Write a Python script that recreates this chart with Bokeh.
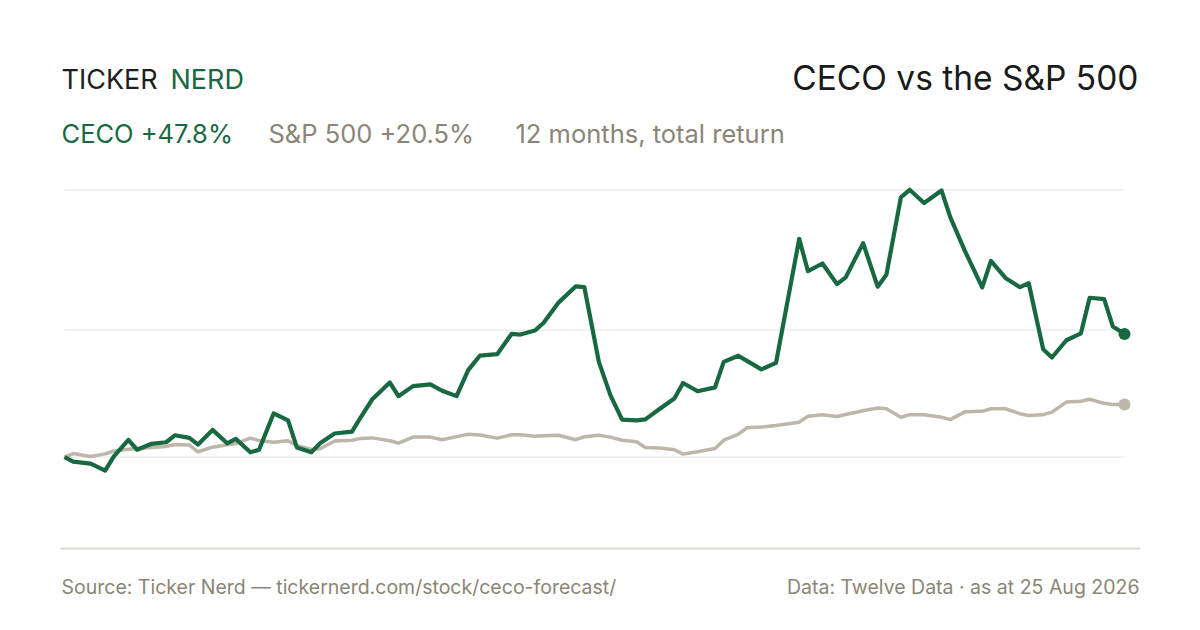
from bokeh.plotting import figure
from bokeh.models import Label, BoxAnnotation, Range1d
from bokeh.embed import file_html
from bokeh.resources import INLINE

# days since 25 Aug 2025 and total return in %
DAYS = [0, 3, 9, 14, 17, 22, 25, 30, 35, 38, 43, 46, 51, 56, 59, 64, 67, 72, 77, 80,
        85, 88, 93, 99, 102, 106, 112, 115, 120, 126, 130, 135, 139, 143, 149, 154, 157, 162, 165, 170,
        176, 179, 184, 188, 192, 197, 200, 205, 210, 213, 218, 224, 227, 232, 235, 240, 245, 253, 256, 261,
        266, 269, 275, 280, 283, 288, 291, 296, 302, 305, 310, 316, 319, 324, 329, 332, 337, 340, 345, 350,
        353, 358, 361, 365]
CECO = [0, -1.7, -2.5, -5.2, 0.3, 6.7, 2.9, 5.2, 5.8, 8.5, 7.5, 4.9, 10.6, 5.4, 7.1, 1.9, 2.9, 17.0, 14.3, 3.8,
        1.9, 5.4, 9.2, 9.9, 15.5, 22.5, 29.0, 23.7, 27.6, 28.3, 25.8, 23.7, 33.8, 39.4, 40.0, 47.9, 47.6, 49.2, 52.2, 59.9,
        66.3, 66.0, 37.0, 24.0, 14.6, 14.3, 14.7, 18.8, 22.8, 28.8, 25.6, 27.1, 37.0, 39.4, 37.4, 34.1, 36.6, 84.8, 72.2, 75.2,
        67.2, 69.8, 83.1, 66.2, 70.8, 100.9, 103.8, 98.7, 103.5, 93.2, 80.2, 65.9, 76.2, 69.6, 66.0, 67.6, 41.9, 38.7, 45.4, 48.1,
        61.9, 61.4, 50.7, 47.8]
SPX = [0, 1.4, 0.3, 1.3, 2.4, 3.1, 3.4, 3.8, 4.2, 4.9, 4.7, 2.1, 3.9, 4.8, 5.3, 7.4, 6.5, 5.8, 6.4, 4.5,
       3.0, 3.3, 6.3, 6.6, 7.3, 7.5, 6.4, 5.5, 7.8, 7.8, 6.8, 8.0, 8.9, 8.6, 7.4, 8.7, 8.7, 8.1, 8.3, 8.5,
       6.8, 7.9, 8.5, 7.8, 6.6, 6.0, 3.8, 3.6, 2.9, 1.2, 2.1, 3.4, 6.6, 8.9, 11.4, 11.7, 12.3, 13.6, 15.9, 16.5,
       15.8, 16.6, 18.0, 19.1, 18.8, 15.5, 16.5, 16.5, 15.5, 14.6, 17.6, 17.8, 18.8, 18.8, 16.9, 16.2, 16.5, 17.5, 21.4, 21.7,
       22.5, 20.9, 20.5, 20.5]
GRID_VALUES = [0, 49.3, 103.8]

TICKER = "CECO"
BENCH = "S&P 500"
PERIOD = "12 months, total return"
SOURCE = "Source: Ticker Nerd \u2014 tickernerd.com/stock/ceco-forecast/"
DATA_NOTE = "Data: Twelve Data \u00b7 as at 25 Aug 2026"

GREEN = "#186842"
SAND = "#BDB6AA"
MUTED = "#8A8577"
FONT = "Inter"

W, H = 1184, 614
# chart area in canvas pixels
CHART_LEFT, CHART_RIGHT = 64, 1124
ZERO_FROM_BOTTOM = 157.3
PX_PER_PCT = 2.576

px_per_day = (CHART_RIGHT - CHART_LEFT) / (DAYS[-1] - DAYS[0])
x_range = Range1d(DAYS[0] - CHART_LEFT / px_per_day, DAYS[-1] + (W - CHART_RIGHT) / px_per_day)
y_range = Range1d(-ZERO_FROM_BOTTOM / PX_PER_PCT, (H - ZERO_FROM_BOTTOM) / PX_PER_PCT)

p = figure(width=W, height=H, x_range=x_range, y_range=y_range,
           output_backend="svg", toolbar_location=None,
           x_axis_location=None, y_axis_location=None,
           min_border=0, background_fill_color="white", border_fill_color="white")
p.outline_line_color = None
p.grid.visible = False

# grid lines
p.segment(x0=[DAYS[0]] * len(GRID_VALUES), x1=[DAYS[-1]] * len(GRID_VALUES),
          y0=GRID_VALUES, y1=GRID_VALUES, line_color="#EDEAE5", line_width=1.2)

p.line(DAYS, SPX, line_color=SAND, line_width=3.5, line_join="round")
p.line(DAYS, CECO, line_color=GREEN, line_width=4.2, line_join="round")
p.scatter([DAYS[-1]], [SPX[-1]], size=12, fill_color=SAND, line_color=None)
p.scatter([DAYS[-1]], [CECO[-1]], size=12, fill_color=GREEN, line_color=None)

# footer rule
p.add_layout(BoxAnnotation(left=60, right=1140, bottom=65, top=67,
                           left_units="screen", right_units="screen",
                           bottom_units="screen", top_units="screen",
                           fill_color="#DEDAD2", fill_alpha=1, line_color=None))


def label(x, y, text, size, color, align="left"):
    p.add_layout(Label(x=x, y=y, x_units="screen", y_units="screen", text=text,
                       text_font=FONT, text_font_size=size, text_color=color,
                       text_align=align, text_baseline="alphabetic"))


label(61, 534.7, "TICKER", "27px", "#1E1E1E")
label(170, 534.7, "NERD", "27px", GREEN)
label(1138, 536.7, f"{TICKER} vs the {BENCH}", "33.5px", "#1A1A1A", "right")

label(61, 481.3, f"{TICKER} +{CECO[-1]:.1f}%", "25.5px", GREEN)
label(268, 481.3, f"{BENCH} +{SPX[-1]:.1f}%", "25.5px", MUTED)
label(515, 481.3, PERIOD, "25.5px", MUTED)

label(61, 28, SOURCE, "19.5px", MUTED)
label(1139, 28, DATA_NOTE, "19.5px", MUTED, "right")

open("out.html", "w").write(file_html(p, INLINE))
